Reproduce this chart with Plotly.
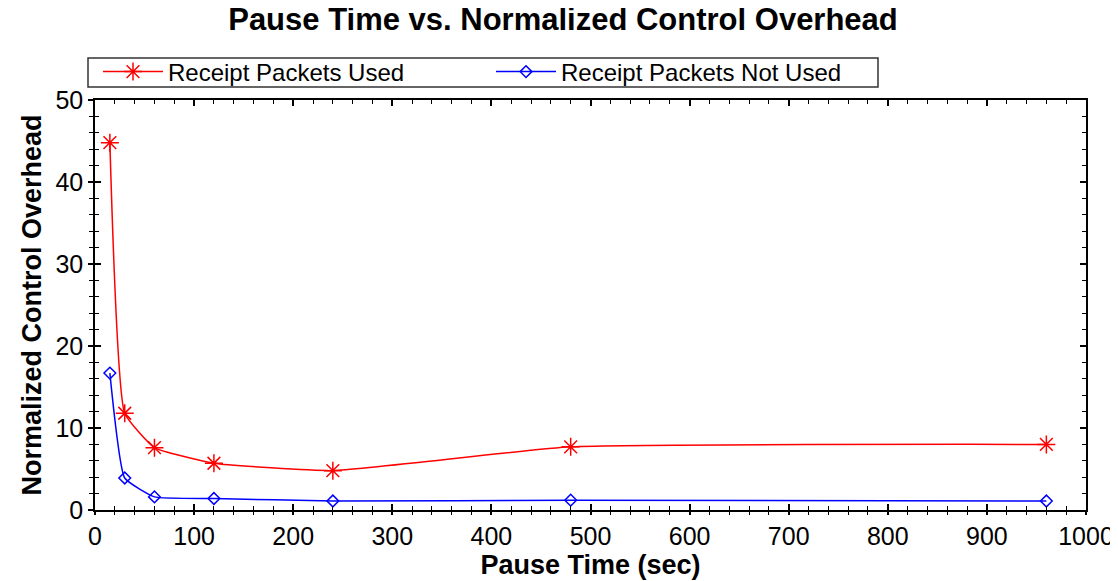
import plotly.graph_objects as go

pause_time = [15, 30, 60, 120, 240, 480, 960]
used = [44.8, 11.8, 7.6, 5.7, 4.8, 7.7, 8.0]
not_used = [16.7, 3.9, 1.6, 1.4, 1.1, 1.2, 1.1]

# the page body has an 8px margin, so the figure is drawn 8px smaller
# and every pixel position below is measured from the figure's corner
OFF = 8
W, H = 1118 - OFF, 581 - OFF
L, R, T, B = 95 - OFF, 32, 100 - OFF, 71
pw, ph = W - L - R, H - T - B

fig = go.Figure()

fig.add_trace(go.Scatter(
    x=pause_time, y=used, mode='lines+markers',
    name='Receipt Packets Used',
    line=dict(color='#ff0000', width=1.5, shape='spline', smoothing=0.4),
    marker=dict(symbol='asterisk-open', size=15, color='#ff0000',
                line=dict(color='#ff0000', width=1.5))
))
fig.add_trace(go.Scatter(
    x=pause_time, y=not_used, mode='lines+markers',
    name='Receipt Packets Not Used',
    line=dict(color='#0000ff', width=1.5, shape='spline', smoothing=0.4),
    marker=dict(symbol='diamond-open', size=9, color='#0000ff',
                line=dict(color='#0000ff', width=1.5))
))
# invisible traces so the extra tick-only axes get drawn
for xa, ya in (('x2', 'y2'), ('x3', 'y3')):
    fig.add_trace(go.Scatter(x=[0], y=[0], xaxis=xa, yaxis=ya, mode='markers',
                             marker=dict(opacity=0), showlegend=False, hoverinfo='skip'))

font = 'Liberation Sans, Arial'
tickfont = dict(family=font, size=25, color='black')
axtitle = dict(family=font, size=27, color='black')

# legend frame (drawn as a shape so it can be as tight as the original)
fig.add_shape(type='rect', xref='paper', yref='paper',
              x0=(88 - 95) / pw, x1=(878 - 95) / pw,
              y0=(510 - 87) / ph, y1=(510 - 58) / ph,
              line=dict(color='#333333', width=1.5), fillcolor='rgba(0,0,0,0)')


def tick_axis(side, rng, dt, mdt, **kw):
    return dict(range=rng, dtick=dt, side=side, automargin=False,
                showgrid=False, zeroline=False, showline=True, linecolor='black', linewidth=1.5,
                ticks='inside', ticklen=6, tickwidth=1.5, tickcolor='black',
                minor=dict(dtick=mdt, ticks='inside', ticklen=4, tickwidth=1, tickcolor='black'),
                showticklabels=False, **kw)


fig.update_layout(
    width=W, height=H,
    paper_bgcolor='white', plot_bgcolor='white',
    margin=dict(l=L, r=R, t=T, b=B),
    title=dict(text='<b>Pause Time vs. Normalized Control Overhead</b>',
               x=0.5, xanchor='center', y=1, yanchor='top', pad=dict(t=0, b=0),
               font=dict(family=font, size=31, color='black')),
    xaxis=dict(range=[0, 1000], dtick=100, tick0=0, showgrid=False, zeroline=False,
               automargin=False,
               showline=True, linecolor='black', linewidth=1.5,
               ticks='outside', ticklen=3, tickwidth=1.5, tickcolor='black',
               minor=dict(dtick=20, ticks='outside', ticklen=3, tickwidth=1, tickcolor='black'),
               tickfont=tickfont,
               title=dict(text='<b>Pause Time (sec)</b>', font=axtitle, standoff=0)),
    yaxis=dict(range=[0, 50], dtick=10, tick0=0, showgrid=False, zeroline=False,
               automargin=False,
               showline=True, linecolor='black', linewidth=1.5,
               ticks='outside', ticklen=5, tickwidth=1.5, tickcolor='black',
               minor=dict(dtick=2, ticks='outside', ticklen=4, tickwidth=1, tickcolor='black'),
               tickfont=tickfont,
               title=dict(text='<b>Normalized Control Overhead</b>', font=axtitle, standoff=6)),
    xaxis2=tick_axis('top', [0, 1000], 100, 20, overlaying='x'),
    yaxis2=tick_axis('right', [0, 50], 10, 2, overlaying='y'),
    xaxis3=tick_axis('bottom', [0, 1000], 100, 20, overlaying='x'),
    yaxis3=tick_axis('left', [0, 50], 10, 2, overlaying='y'),
    legend=dict(orientation='h', xref='container', yref='container',
                x=(98 - OFF) / W, xanchor='left', y=1 - (72 - OFF) / H, yanchor='middle',
                borderwidth=0, bgcolor='rgba(0,0,0,0)',
                font=dict(family=font, size=24, color='black'),
                entrywidth=318, itemwidth=60, tracegroupgap=0),
    showlegend=True,
)

fig.write_html('out.html')
